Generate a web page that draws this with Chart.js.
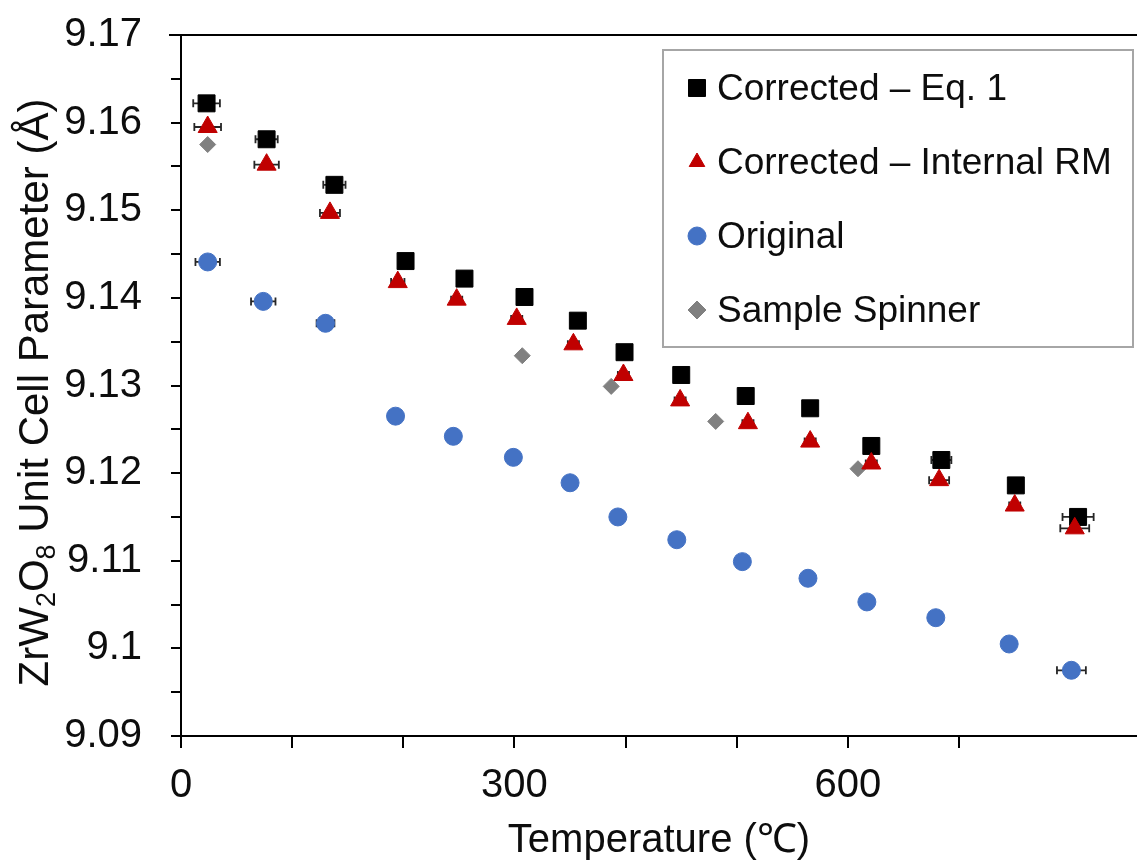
<!DOCTYPE html>
<html>
<head>
<meta charset="utf-8">
<script src="https://cdn.jsdelivr.net/npm/chart.js@4.4.1/dist/chart.umd.min.js"></script>
<style>
html, body { margin: 0; padding: 0; background: #fff; overflow: hidden; }
#wrap { width: 1137px; height: 861px; position: relative; }
canvas { display: block; }
</style>
</head>
<body>
<div id="wrap"><canvas id="chart"></canvas></div>
<script>
// Corrected – Eq. 1 (squares)
const eq1Temp = [23, 77, 138, 202, 255, 309, 357, 399, 450, 508, 566, 621, 684, 751, 807];
const eq1A    = [9.1622, 9.1581, 9.1529, 9.1442, 9.1422, 9.1401, 9.1374, 9.1338, 9.1312, 9.1288, 9.1274, 9.1231, 9.1215, 9.1186, 9.1150];
const eq1Err  = [12, 10, 10, 4, 4, 4, 4, 4, 4, 4, 4, 4, 9, 4, 14];

// Corrected – Internal RM (triangles)
const rmTemp = [24, 77, 134, 195, 248, 302, 353, 398, 449, 510, 566, 621, 682, 750, 804];
const rmA    = [9.1595, 9.1552, 9.1497, 9.1418, 9.1398, 9.1376, 9.1347, 9.1312, 9.1283, 9.1257, 9.1236, 9.1211, 9.1192, 9.1163, 9.1137];
const rmErr  = [12, 11, 9, 6, 5, 5, 5, 5, 5, 5, 5, 5, 9, 5, 13];

// Original (circles)
const origTemp = [24, 74, 130, 193, 245, 299, 350, 393, 446, 505, 564, 617, 679, 745, 801];
const origA    = [9.1441, 9.1396, 9.1371, 9.1265, 9.1242, 9.1218, 9.1189, 9.1150, 9.1124, 9.1099, 9.1080, 9.1053, 9.1035, 9.1005, 9.0975];
const origErr  = [11, 11, 8, 3, 3, 3, 3, 3, 3, 3, 3, 3, 3, 3, 13];

// Sample Spinner (diamonds)
const spinTemp = [24, 307, 387, 481, 609];
const spinA    = [9.1575, 9.1334, 9.1299, 9.1259, 9.1205];

const legendLabels = ['Corrected \u2013 Eq. 1', 'Corrected \u2013 Internal RM', 'Original', 'Sample Spinner'];
const xTitle = 'Temperature (\u2103)';
// y title pieces: [text, isSubscript]
const yTitleParts = [['ZrW', false], ['2', true], ['O', false], ['8', true], [' Unit Cell Parameter (\u00c5)', false]];

const FONT = '"Liberation Sans", Arial, sans-serif';
const TEXT = '#0d0d0d';

function pts(xs, ys) {
    return xs.map((x, i) => ({x: x, y: ys[i]}));
}

const datasets = [
    {
        label: legendLabels[0],
        data: pts(eq1Temp, eq1A),
        xErr: eq1Err,
        pointStyle: 'rect',
        pointRadius: 12,
        backgroundColor: '#000000',
        borderColor: '#000000',
        borderWidth: 1,
        order: 4,
    },
    {
        label: legendLabels[1],
        data: pts(rmTemp, rmA),
        xErr: rmErr,
        pointStyle: 'triangle',
        pointRadius: 11,
        backgroundColor: '#C00000',
        borderColor: '#C00000',
        borderWidth: 1,
        order: 1,
    },
    {
        label: legendLabels[2],
        data: pts(origTemp, origA),
        xErr: origErr,
        pointStyle: 'circle',
        pointRadius: 9,
        backgroundColor: '#4472C4',
        borderColor: '#4472C4',
        borderWidth: 1,
        order: 2,
    },
    {
        label: legendLabels[3],
        data: pts(spinTemp, spinA),
        pointStyle: 'rectRot',
        pointRadius: 8,
        backgroundColor: '#808080',
        borderColor: '#808080',
        borderWidth: 1,
        order: 3,
    },
];

// let the plot run to the right edge of the canvas, like the original
const fullWidth = {
    id: 'fullWidth',
    afterLayout(chart) {
        const xs = chart.scales.x;
        chart.chartArea.right = chart.width;
        chart.chartArea.width = chart.chartArea.right - chart.chartArea.left;
        xs.right = chart.width;
        xs.width = xs.right - xs.left;
        xs.configure();
    }
};

// horizontal error bars, drawn under the markers
const errorBars = {
    id: 'errorBars',
    beforeDatasetsDraw(chart) {
        const ctx = chart.ctx;
        const xs = chart.scales.x, ys = chart.scales.y;
        ctx.save();
        ctx.strokeStyle = '#262626';
        ctx.lineWidth = 1.8;
        chart.data.datasets.forEach(ds => {
            if (!ds.xErr) return;
            ds.data.forEach((p, i) => {
                const e = ds.xErr[i];
                const x0 = xs.getPixelForValue(p.x - e);
                const x1 = xs.getPixelForValue(p.x + e);
                const y = ys.getPixelForValue(p.y);
                ctx.beginPath();
                ctx.moveTo(x0, y); ctx.lineTo(x1, y);
                ctx.moveTo(x0, y - 4); ctx.lineTo(x0, y + 4);
                ctx.moveTo(x1, y - 4); ctx.lineTo(x1, y + 4);
                ctx.stroke();
            });
        });
        ctx.restore();
    }
};

// top frame line, y-axis title with subscripts, boxed legend
const extras = {
    id: 'extras',
    afterDraw(chart) {
        const ctx = chart.ctx;
        const a = chart.chartArea;
        ctx.save();

        ctx.strokeStyle = '#000';
        ctx.lineWidth = 2;
        ctx.beginPath();
        ctx.moveTo(a.left - 12, a.top);
        ctx.lineTo(a.right, a.top);
        ctx.stroke();

        // y title
        const fs = 42, sub = 27;
        let total = 0;
        yTitleParts.forEach(([t, s]) => {
            ctx.font = (s ? sub : fs) + 'px ' + FONT;
            total += ctx.measureText(t).width;
        });
        ctx.translate(48, (a.top + a.bottom) / 2 + 7);
        ctx.rotate(-Math.PI / 2);
        ctx.fillStyle = TEXT;
        ctx.textBaseline = 'alphabetic';
        ctx.textAlign = 'left';
        let cx = -total / 2;
        yTitleParts.forEach(([t, s]) => {
            ctx.font = (s ? sub : fs) + 'px ' + FONT;
            ctx.fillText(t, cx, s ? 7 : 0);
            cx += ctx.measureText(t).width;
        });
        ctx.setTransform(1, 0, 0, 1, 0, 0);

        // legend
        const bw = 470, bh = 297;
        const bx = a.right - 4 - bw, by = a.top + 15;
        ctx.fillStyle = '#fff';
        ctx.fillRect(bx, by, bw, bh);
        ctx.strokeStyle = '#A6A6A6';
        ctx.lineWidth = 2;
        ctx.strokeRect(bx, by, bw, bh);
        ctx.font = '37px ' + FONT;
        ctx.textBaseline = 'middle';
        chart.data.datasets.forEach((ds, i) => {
            const y = by + 38 + i * 74;
            ctx.fillStyle = ds.backgroundColor;
            ctx.strokeStyle = ds.borderColor;
            ctx.lineWidth = 1;
            Chart.helpers.drawPoint(ctx, {
                pointStyle: ds.pointStyle, radius: ds.pointStyle === 'rect' ? 12 : 9,
                rotation: 0, borderWidth: 1
            }, bx + 34, y);
            ctx.fillStyle = TEXT;
            ctx.fillText(ds.label, bx + 54, y + 2);
        });
        ctx.restore();
    }
};

new Chart(document.getElementById('chart'), {
    type: 'scatter',
    data: { datasets: datasets },
    plugins: [fullWidth, errorBars, extras],
    options: {
        responsive: true,
        maintainAspectRatio: false,
        animation: false,
        layout: { padding: { top: 35, right: 0, left: 0, bottom: 0 } },
        plugins: { legend: { display: false }, tooltip: { enabled: false } },
        scales: {
            x: {
                type: 'linear',
                min: 0,
                max: 860,
                afterBuildTicks: s => { s.ticks = s.ticks.filter(t => t.value % 100 === 0); },
                afterFit: s => {
                    s.height = 125;
                    s.paddingLeft = 0; s.paddingRight = 0; s.paddingTop = 0; s.paddingBottom = 0;
                },
                border: { display: true, color: '#000', width: 2 },
                grid: { drawOnChartArea: false, drawTicks: true, tickLength: 12, color: '#000', lineWidth: 2 },
                ticks: {
                    stepSize: 100,
                    padding: 14,
                    maxRotation: 0,
                    autoSkip: false,
                    color: TEXT,
                    font: { family: FONT, size: 40 },
                    callback: v => (v % 300 === 0 ? String(v) : ''),
                },
                title: {
                    display: true,
                    text: xTitle,
                    color: TEXT,
                    font: { family: FONT, size: 40, lineHeight: 1.0 },
                    padding: { top: 0, bottom: 0 },
                },
            },
            y: {
                type: 'linear',
                min: 9.09,
                max: 9.17,
                afterBuildTicks: s => {
                    s.ticks = s.ticks.filter(t => Math.abs(Math.round(t.value * 200) - t.value * 200) < 1e-6);
                },
                afterFit: s => {
                    s.width = 181;
                    s.paddingLeft = 0; s.paddingRight = 0; s.paddingTop = 0; s.paddingBottom = 0;
                },
                border: { display: true, color: '#000', width: 2 },
                grid: { drawOnChartArea: false, drawTicks: true, tickLength: 10, color: '#000', lineWidth: 2 },
                ticks: {
                    stepSize: 0.005,
                    padding: 29,
                    autoSkip: false,
                    color: TEXT,
                    font: { family: FONT, size: 40 },
                    callback: v => {
                        const m = Math.round(v * 1000);
                        if (m % 10 !== 0) return '';
                        return String(m / 1000);
                    },
                },
            },
        },
    },
});
</script>
</body>
</html>
